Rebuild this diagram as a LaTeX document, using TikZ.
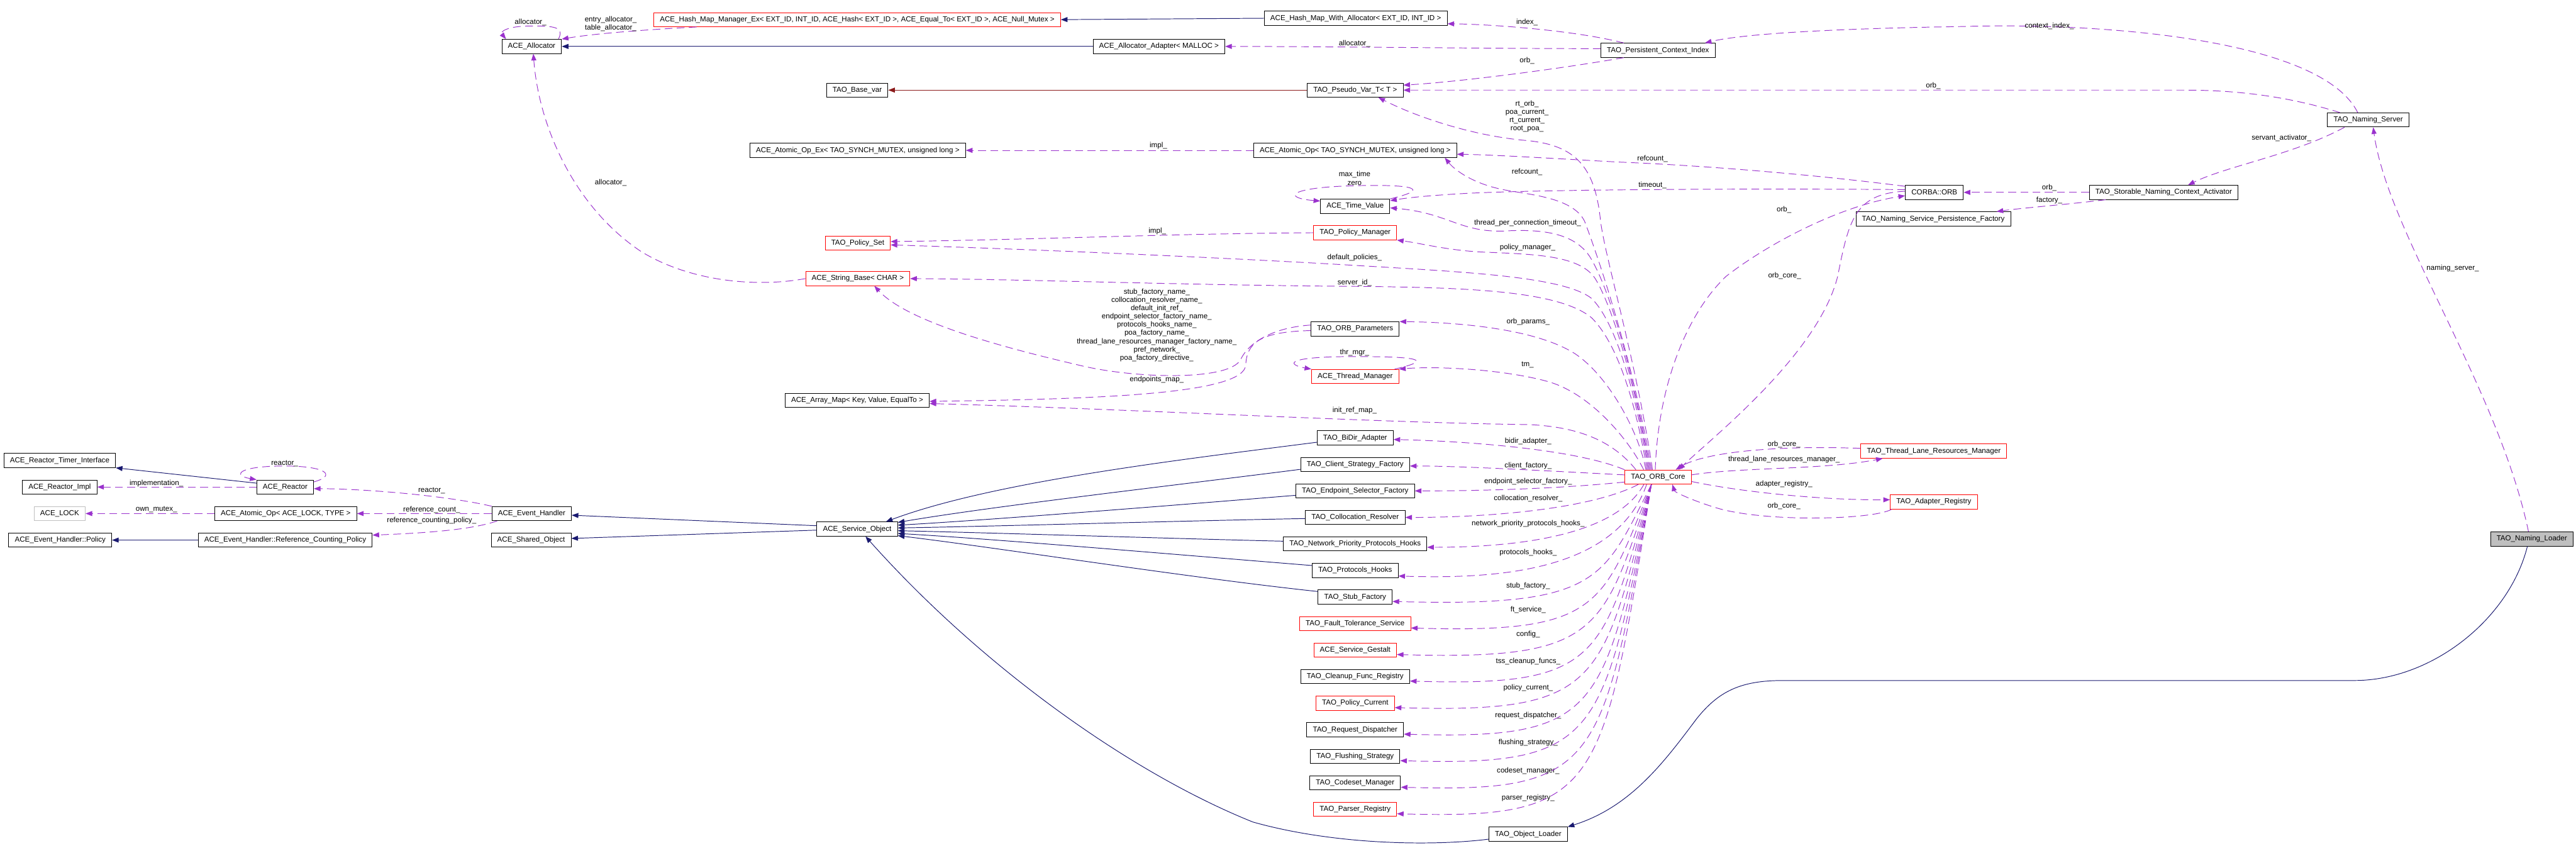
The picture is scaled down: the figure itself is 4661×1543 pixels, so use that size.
\documentclass[tikz,border=0pt]{standalone}
\usepackage{fontspec}
\setmainfont{Liberation Sans}
\usetikzlibrary{arrows.meta}
\definecolor{inhblue}{HTML}{191970}
\definecolor{protred}{HTML}{8B1A1A}
\definecolor{usepurple}{HTML}{9A32CD}
\definecolor{boxgray}{HTML}{BFBFBF}

\begin{document}
\begin{tikzpicture}[x=1pt, y=-1pt, >={Triangle[length=12pt,width=9pt]},
  every node/.style={font=\fontsize{13.2}{15}\selectfont},
  box/.style={line width=1.1pt, fill=white, minimum height=25.5pt, inner xsep=11pt, inner ysep=2pt},
  cls/.style={box, draw=black},
  clsred/.style={box, draw=red},
  clsgray/.style={box, draw=boxgray},
  clsroot/.style={box, draw=black, fill=boxgray},
  inh/.style={->, draw=inhblue, line width=1.1pt},
  prot/.style={->, draw=protred, line width=1.1pt},
  use/.style={->, draw=usepurple, line width=1.1pt, dash pattern=on 14pt off 8pt},
  lbl/.style={inner sep=0pt, align=center}]

  % Canvas
  \fill[white] (0,0) rectangle (4661,1543);
  \useasboundingbox (0,0) rectangle (4661,1543);

  % Top row: allocators and hash maps
  \node[cls] (ace_alloc) at (962,84) {ACE\_Allocator};
  \node[clsred] (hash_mgr) at (1551,35.5) {ACE\_Hash\_Map\_Manager\_Ex< EXT\_ID, INT\_ID, ACE\_Hash< EXT\_ID >, ACE\_Equal\_To< EXT\_ID >, ACE\_Null\_Mutex >};
  \node[cls] (hash_with) at (2453,33) {ACE\_Hash\_Map\_With\_Allocator< EXT\_ID, INT\_ID >};
  \node[cls] (alloc_adapter) at (2097,84) {ACE\_Allocator\_Adapter< MALLOC >};
  \node[cls] (persist_idx) at (3000,91) {TAO\_Persistent\_Context\_Index};
  \node[cls] (base_var) at (1551,163) {TAO\_Base\_var};
  \node[cls] (pseudo_var) at (2452,163) {TAO\_Pseudo\_Var\_T< T >};
  \node[cls] (atomic_ex) at (1552,272) {ACE\_Atomic\_Op\_Ex< TAO\_SYNCH\_MUTEX, unsigned long >};
  \node[cls] (atomic_op) at (2452,272) {ACE\_Atomic\_Op< TAO\_SYNCH\_MUTEX, unsigned long >};
  \node[cls] (time_value) at (2452,373) {ACE\_Time\_Value};

  % Naming service side
  \node[cls] (naming_server) at (4285,217) {TAO\_Naming\_Server};
  \node[cls] (corba_orb) at (3500,348) {CORBA::ORB};
  \node[cls] (activator) at (3915,348) {TAO\_Storable\_Naming\_Context\_Activator};
  \node[cls] (persist_fac) at (3498,396) {TAO\_Naming\_Service\_Persistence\_Factory};
  \node[clsroot] (naming_loader) at (4581,975) {TAO\_Naming\_Loader};

  % ORB core members (upper part)
  \node[clsred] (policy_set) at (1552,440) {TAO\_Policy\_Set};
  \node[clsred] (policy_mgr) at (2452,421) {TAO\_Policy\_Manager};
  \node[clsred] (string_base) at (1552,504) {ACE\_String\_Base< CHAR >};
  \node[cls] (orb_params) at (2452,595) {TAO\_ORB\_Parameters};
  \node[clsred] (thread_mgr) at (2452,681) {ACE\_Thread\_Manager};
  \node[cls] (array_map) at (1551,724) {ACE\_Array\_Map< Key, Value, EqualTo >};

  % ORB core and its neighbours
  \node[clsred] (orb_core) at (3000,863) {TAO\_ORB\_Core};
  \node[clsred] (tlrm) at (3499,816) {TAO\_Thread\_Lane\_Resources\_Manager};
  \node[clsred] (adapter_reg) at (3499,908) {TAO\_Adapter\_Registry};
  \node[cls] (obj_loader) at (2765,1509) {TAO\_Object\_Loader};

  % Column of ORB core members with their labels
  \foreach \nm/\txt/\sty/\lab/\ly [count=\i from 0] in {
    bidir/{TAO\_BiDir\_Adapter}/cls/{bidir\_adapter\_}/798,
    client_fac/{TAO\_Client\_Strategy\_Factory}/cls/{client\_factory\_}/843,
    endpoint_fac/{TAO\_Endpoint\_Selector\_Factory}/cls/{endpoint\_selector\_factory\_}/871,
    colloc/{TAO\_Collocation\_Resolver}/cls/{collocation\_resolver\_}/902,
    net_prio/{TAO\_Network\_Priority\_Protocols\_Hooks}/cls/{network\_priority\_protocols\_hooks\_}/947,
    proto_hooks/{TAO\_Protocols\_Hooks}/cls/{protocols\_hooks\_}/1000,
    stub_fac/{TAO\_Stub\_Factory}/cls/{stub\_factory\_}/1060,
    ft_service/{TAO\_Fault\_Tolerance\_Service}/clsred/{ft\_service\_}/1103,
    gestalt/{ACE\_Service\_Gestalt}/clsred/{config\_}/1148,
    cleanup/{TAO\_Cleanup\_Func\_Registry}/cls/{tss\_cleanup\_funcs\_}/1196,
    pol_current/{TAO\_Policy\_Current}/clsred/{policy\_current\_}/1244,
    req_disp/{TAO\_Request\_Dispatcher}/cls/{request\_dispatcher\_}/1294,
    flushing/{TAO\_Flushing\_Strategy}/cls/{flushing\_strategy\_}/1343,
    codeset/{TAO\_Codeset\_Manager}/cls/{codeset\_manager\_}/1394,
    parser/{TAO\_Parser\_Registry}/clsred/{parser\_registry\_}/1443} {
    \node[\sty] (\nm) at (2452,792+48*\i) {\txt};
    \node[lbl] (lb_\nm) at (2765,\ly) {\lab};
  }

  % Service object hierarchy and reactor group
  \node[cls] (svc_obj) at (1551,957) {ACE\_Service\_Object};
  \node[cls] (event_handler) at (962,929) {ACE\_Event\_Handler};
  \node[cls] (shared_obj) at (961,977) {ACE\_Shared\_Object};
  \node[cls] (timer_iface) at (108,833) {ACE\_Reactor\_Timer\_Interface};
  \node[cls] (reactor_impl) at (108,881) {ACE\_Reactor\_Impl};
  \node[clsgray] (ace_lock) at (108,929) {ACE\_LOCK};
  \node[cls] (eh_policy) at (109,977) {ACE\_Event\_Handler::Policy};
  \node[cls] (reactor) at (516,881) {ACE\_Reactor};
  \node[cls] (atomic_lock) at (517,929) {ACE\_Atomic\_Op< ACE\_LOCK, TYPE >};
  \node[cls] (refcnt_policy) at (516,977) {ACE\_Event\_Handler::Reference\_Counting\_Policy};

  % Inheritance
  \draw[inh] (hash_with.west) -- (hash_mgr.east);
  \draw[inh] (alloc_adapter.west) -- (ace_alloc.east);
  \draw[prot] (pseudo_var.west) -- (base_var.east);
  \draw[inh] ([yshift=7pt]reactor.west) -- (timer_iface.south east);
  \draw[inh] (refcnt_policy.west) -- (eh_policy.east);
  \draw[inh] ([yshift=6pt]svc_obj.west) -- ([yshift=-3pt]event_handler.east);
  \draw[inh] ([yshift=-2pt]svc_obj.west) -- ([yshift=3pt]shared_obj.east);
  \draw[inh] ([yshift=-8pt]bidir.west) .. controls (2150,830) and (1800,870) .. ([xshift=52pt]svc_obj.north);
  \draw[inh] ([yshift=-9pt]client_fac.west) .. controls (2150,875) and (1800,915) .. ([yshift=12pt]svc_obj.east);
  \draw[inh] ([yshift=-8pt]endpoint_fac.west) .. controls (2150,912) and (1800,940) .. ([yshift=7pt]svc_obj.east);
  \draw[inh] ([yshift=-2pt]colloc.west) .. controls (2150,942) and (1800,952) .. ([yshift=2pt]svc_obj.east);
  \draw[inh] ([yshift=5pt]net_prio.west) .. controls (2150,975) and (1800,964) .. ([yshift=-3pt]svc_obj.east);
  \draw[inh] ([yshift=9pt]proto_hooks.west) .. controls (2150,1005) and (1800,975) .. ([yshift=-8pt]svc_obj.east);
  \draw[inh] ([yshift=10pt]stub_fac.west) .. controls (2150,1045) and (1800,990) .. ([yshift=-12pt]svc_obj.east);
  \draw[inh] ([yshift=-9pt]obj_loader.west) .. controls (2600,1530) and (2420,1530) .. (2267,1487)
    .. controls (2050,1400) and (1780,1210) .. ([xshift=15pt]svc_obj.south);
  \draw[inh] ([xshift=-8pt]naming_loader.south) .. controls (4540,1120) and (4400,1231) .. (4260,1231) -- (3226,1231)
    .. controls (3150,1231) and (3110,1250) .. (3070,1300) .. controls (3010,1380) and (2950,1460) .. (obj_loader.north east);

  % Allocator usage
  \draw[use] ([xshift=-6pt]ace_alloc.north east) .. controls (1022,48) and (1000,47) .. (962,47)
    .. controls (915,47) and (905,58) .. ([xshift=8pt]ace_alloc.north west);
  \node[lbl] (lb_alloc_self) at (960,40) {allocator\_};
  \draw[use] ([xshift=78pt]hash_mgr.south west) .. controls (1180,53) and (1080,60) .. (ace_alloc.north east);
  \node[lbl] (lb_entry) at (1105,43.5) {entry\_allocator\_\\table\_allocator\_};
  \draw[use] (string_base.west) .. controls (1370,520) and (1250,510) .. (1160,455)
    .. controls (1040,375) and (975,230) .. ([xshift=3pt]ace_alloc.south);
  \node[lbl] (lb_alloc_str) at (1105,330) {allocator\_};

  % Persistent context index and naming server
  \draw[use] ([xshift=-62pt]persist_idx.north) .. controls (2850,55) and (2700,44) .. ([yshift=-10pt]hash_with.east);
  \node[lbl] (lb_index) at (2763,40) {index\_};
  \draw[use] ([yshift=3pt]persist_idx.west) .. controls (2700,88) and (2400,84) .. (alloc_adapter.east);
  \node[lbl] (lb_adapter) at (2451,79) {allocator\_};
  \draw[use] ([xshift=-62pt]persist_idx.south) .. controls (2820,125) and (2640,148) .. ([yshift=9pt]pseudo_var.east);
  \node[lbl] (lb_orb_pi) at (2763,110) {orb\_};
  \draw[use] ([xshift=-19pt]naming_server.north) .. controls (4200,70) and (3800,40) .. (3550,48)
    .. controls (3300,52) and (3150,62) .. ([xshift=-19pt]persist_idx.north east);
  \node[lbl] (lb_ctx) at (3708,47) {context\_index\_};
  \draw[use] ([xshift=-51pt]naming_server.north) .. controls (4120,168) and (4020,163) .. (3950,163) -- (pseudo_var.east);
  \node[lbl] (lb_orb_ns) at (3498,155) {orb\_};
  \draw[use] ([xshift=-43pt]naming_server.south) .. controls (4150,280) and (4030,300) .. ([xshift=44pt]activator.north);
  \node[lbl] (lb_servant) at (4128,250) {servant\_activator\_};
  \draw[use] (activator.west) -- (corba_orb.east);
  \node[lbl] (lb_orb_act) at (3708,340) {orb\_};
  \draw[use] ([xshift=-105pt]activator.south) .. controls (3740,370) and (3660,376) .. ([xshift=-26pt]persist_fac.north east);
  \node[lbl] (lb_factory) at (3708,362) {factory\_};
  \draw[use] ([xshift=-6pt]naming_loader.north) .. controls (4520,700) and (4320,420) .. ([xshift=9pt]naming_server.south);
  \node[lbl] (lb_naming) at (4438,485) {naming\_server\_};

  % CORBA::ORB links
  \draw[use] ([yshift=11pt]corba_orb.west) .. controls (3300,318) and (3100,300) .. (2925,293)
    .. controls (2800,286) and (2700,280) .. ([yshift=-7pt]atomic_op.east);
  \node[lbl] (lb_refcount_orb) at (2990,287) {refcount\_};
  \draw[use] ([yshift=5pt]corba_orb.west) .. controls (3200,341) and (2800,342) .. (2650,350)
    .. controls (2580,354) and (2545,358) .. ([yshift=10pt]time_value.east);
  \node[lbl] (lb_timeout) at (2990,335) {timeout\_};
  \draw[use] ([xshift=-5pt]orb_core.north) .. controls (3000,700) and (3050,570) .. (3123,500)
    .. controls (3200,440) and (3330,372) .. ([yshift=-6pt]corba_orb.west);
  \node[lbl] (lb_orb_core_orb) at (3228,379) {orb\_};
  \draw[use] ([yshift=2pt]corba_orb.west) .. controls (3355,350) and (3345,400) .. (3325,500)
    .. controls (3290,640) and (3100,790) .. ([xshift=37pt]orb_core.north);
  \node[lbl] (lb_orbcore_orb) at (3229,499) {orb\_core\_};

  % Time value and atomic op
  \draw[use] (time_value.north east) .. controls (2590,342) and (2560,333) .. (2450,336)
    .. controls (2330,339) and (2320,358) .. ([yshift=-4pt]time_value.north west);
  \node[lbl] (lb_maxtime) at (2451,322.5) {max\_time\\zero};
  \draw[use] (atomic_op.west) -- (atomic_ex.east);
  \node[lbl] (lb_impl_atomic) at (2096,263) {impl\_};

  % ORB core fan, upwards
  \draw[use] ([xshift=-10pt]orb_core.north) .. controls (2960,650) and (2905,470) .. (2896,400)
    .. controls (2886,300) and (2850,262) .. (2760,254) .. controls (2660,245) and (2560,210) .. ([xshift=42pt]pseudo_var.south);
  \node[lbl] (lb_rt) at (2763,210.5) {rt\_orb\_\\poa\_current\_\\rt\_current\_\\root\_poa\_};
  \draw[use] ([xshift=-12pt]orb_core.north) .. controls (2955,650) and (2890,460) .. (2867,400)
    .. controls (2845,355) and (2760,352) .. (2715,342) .. controls (2660,330) and (2630,305) .. ([xshift=-22pt]atomic_op.south east);
  \node[lbl] (lb_refcount_core) at (2763,311) {refcount\_};
  \draw[use] ([xshift=-14pt]orb_core.north) .. controls (2960,700) and (2920,540) .. (2880,470)
    .. controls (2855,425) and (2800,413) .. (2720,418) .. controls (2640,420) and (2620,385) .. ([yshift=-3pt]time_value.east);
  \node[lbl] (lb_tpct) at (2764,403) {thread\_per\_connection\_timeout\_};
  \draw[use] ([xshift=-16pt]orb_core.north) .. controls (2960,700) and (2920,560) .. (2887,505)
    .. controls (2860,462) and (2780,460) .. (2683,456) .. controls (2620,453) and (2570,440) .. (policy_mgr.south east);
  \node[lbl] (lb_policy_mgr) at (2764,448) {policy\_manager\_};
  \draw[use] ([xshift=-18pt]orb_core.north) .. controls (2965,740) and (2930,590) .. (2880,540)
    .. controls (2830,500) and (2650,492) .. (2450,480) .. controls (2250,468) and (1900,452) .. ([yshift=-3pt]policy_set.east);
  \node[lbl] (lb_def_pol) at (2451,466) {default\_policies\_};
  \draw[use] ([xshift=-20pt]orb_core.north) .. controls (2965,760) and (2935,630) .. (2880,575)
    .. controls (2820,525) and (2650,520) .. (2450,518) .. controls (2150,516) and (1850,505) .. (string_base.east);
  \node[lbl] (lb_server_id) at (2451,512) {server\_id\_};
  \draw[use] ([xshift=-22pt]orb_core.north) .. controls (2965,780) and (2910,680) .. (2850,640)
    .. controls (2780,595) and (2640,583) .. (orb_params.north east);
  \node[lbl] (lb_orb_params) at (2765,582) {orb\_params\_};
  \draw[use] ([xshift=-26pt]orb_core.north) .. controls (2950,800) and (2880,712) .. (2800,690)
    .. controls (2720,668) and (2600,662) .. (thread_mgr.north east);
  \node[lbl] (lb_tm) at (2764,660) {tm\_};
  \draw[use] ([xshift=-40pt]orb_core.north) .. controls (2920,800) and (2860,772) .. (2765,768)
    .. controls (2500,765) and (2050,740) .. ([yshift=-6pt]array_map.east);
  \node[lbl] (lb_init_ref) at (2451,743) {init\_ref\_map\_};

  % Policy manager, thread manager, ORB parameters
  \draw[use] (policy_mgr.west) .. controls (2100,423) and (1900,433) .. ([yshift=3pt]policy_set.east);
  \node[lbl] (lb_impl_pol) at (2094,418) {impl\_};
  \draw[use] ([xshift=-8pt]thread_mgr.north east) .. controls (2600,650) and (2560,645) .. (2451,645)
    .. controls (2320,645) and (2330,660) .. (thread_mgr.north west);
  \node[lbl] (lb_thr_mgr) at (2451,638) {thr\_mgr\_};
  \draw[use] ([yshift=7pt]orb_params.west) .. controls (2310,592) and (2262,615) .. (2245,650)
    .. controls (2225,690) and (2050,685) .. (1950,660) .. controls (1800,625) and (1640,580) .. ([xshift=30pt]string_base.south);
  \node[lbl] (lb_names) at (2093,588) {stub\_factory\_name\_\\collocation\_resolver\_name\_\\default\_init\_ref\_\\endpoint\_selector\_factory\_name\_\\protocols\_hooks\_name\_\\poa\_factory\_name\_\\thread\_lane\_resources\_manager\_factory\_name\_\\pref\_network\_\\poa\_factory\_directive\_};
  \draw[use] ([yshift=-3pt]orb_params.west) .. controls (2280,600) and (2256,620) .. (2254,660)
    .. controls (2252,712) and (2000,722) .. ([yshift=-2pt]array_map.east);
  \node[lbl] (lb_endpoints) at (2093,687) {endpoints\_map\_};

  % ORB core fan, sideways and downwards
  \draw[use] (orb_core.north west) .. controls (2850,812) and (2650,798) .. ([yshift=-3pt]bidir.east);
  \draw[use] ([yshift=4pt]orb_core.west) .. controls (2800,852) and (2650,843) .. ([yshift=-3pt]client_fac.east);
  \draw[use] ([yshift=-9pt]orb_core.west) .. controls (2800,886) and (2650,888) .. (endpoint_fac.east);
  \draw[use] ([xshift=25pt]orb_core.south west) .. controls (2880,920) and (2700,936) .. (colloc.east);
  \draw[use] ([xshift=35pt]orb_core.south west) .. controls (2925,965) and (2760,990) .. ([yshift=-6pt]net_prio.east);
  \draw[use] ([xshift=40pt]orb_core.south west) .. controls (2925,1030) and (2720,1048) .. ([yshift=-10pt]proto_hooks.east);
  \foreach \nm/\yy in {stub_fac/1080, ft_service/1128, gestalt/1176, cleanup/1224, pol_current/1272,
                       req_disp/1320, flushing/1368, codeset/1416, parser/1464}
    \draw[use] ([xshift=-12pt]orb_core.south) .. controls (2900,\yy-30) and (2895,\yy+18) .. ([yshift=-8pt]\nm.east);

  % Lane resources and adapter registry
  \draw[use] ([yshift=5pt]tlrm.west) .. controls (3200,805) and (3080,820) .. ([xshift=32pt]orb_core.north);
  \node[lbl] (lb_orbcore_tl) at (3228,804) {orb\_core\_};
  \draw[use] ([yshift=4pt]orb_core.east) .. controls (3150,845) and (3300,850) .. ([xshift=40pt]tlrm.south west);
  \node[lbl] (lb_tlrm) at (3228,831) {thread\_lane\_resources\_manager\_};
  \draw[use] ([yshift=-8pt]orb_core.east) .. controls (3150,890) and (3300,905) .. ([yshift=4pt]adapter_reg.west);
  \node[lbl] (lb_adreg) at (3228,876) {adapter\_registry\_};
  \draw[use] ([xshift=3pt]adapter_reg.south west) .. controls (3390,940) and (3200,945) .. (3110,920)
    .. controls (3060,905) and (3030,890) .. ([xshift=26pt]orb_core.south);
  \node[lbl] (lb_orbcore_ar) at (3228,915) {orb\_core\_};

  % Reactor and event handler group
  \draw[use] ([yshift=-4pt]reactor.north east) .. controls (610,860) and (590,843) .. (515,843)
    .. controls (430,843) and (420,860) .. (reactor.north west);
  \node[lbl] (lb_reactor_self) at (515,838) {reactor\_};
  \draw[use] (reactor.west) -- (reactor_impl.east);
  \node[lbl] (lb_impl) at (283,874) {implementation\_};
  \draw[use] (event_handler.north west) .. controls (800,895) and (650,884) .. ([yshift=-3pt]reactor.east);
  \node[lbl] (lb_reactor) at (781,888) {reactor\_};
  \draw[use] (event_handler.west) -- (atomic_lock.east);
  \node[lbl] (lb_refcount) at (781,922) {reference\_count\_};
  \draw[use] (atomic_lock.west) -- (ace_lock.east);
  \node[lbl] (lb_own) at (283,922) {own\_mutex\_};
  \draw[use] ([xshift=10pt]event_handler.south west) .. controls (850,960) and (750,965) .. ([yshift=9pt]refcnt_policy.east);
  \node[lbl] (lb_rcp) at (781,942) {reference\_counting\_policy\_};
\end{tikzpicture}
\end{document}
